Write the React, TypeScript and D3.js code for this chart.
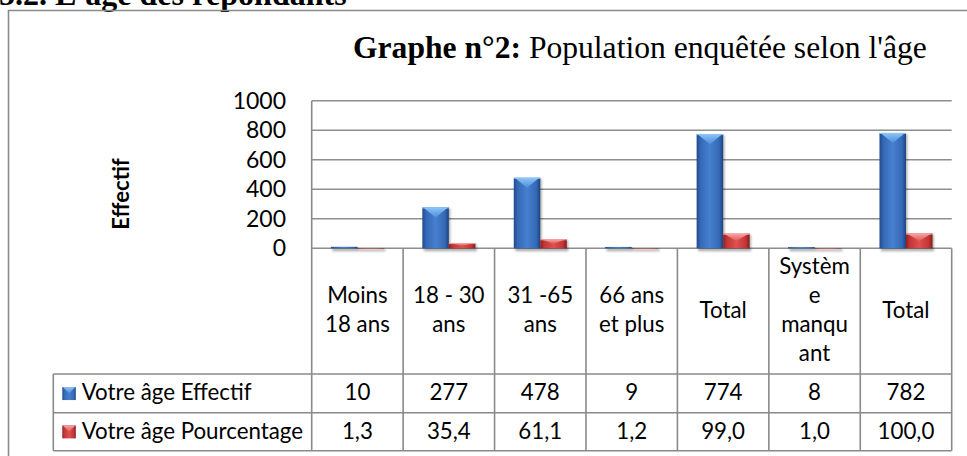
import React from "react";
import * as d3 from "d3";

const categories: string[][] = [
  ["Moins", "18 ans"],
  ["18 - 30", "ans"],
  ["31 -65", "ans"],
  ["66 ans", "et plus"],
  ["Total"],
  ["Systèm", "e", "manqu", "ant"],
  ["Total"],
];
const effectif = [10, 277, 478, 9, 774, 8, 782];
const pourcentage = [1.3, 35.4, 61.1, 1.2, 99.0, 1.0, 100.0];
const yTicks = [0, 200, 400, 600, 800, 1000];
const seriesNames = ["Votre âge Effectif", "Votre âge Pourcentage"];
const heading = "5.2. L'âge des répondants";
const titleBold = "Graphe n°2:";
const titleRest = " Population enquêtée selon l'âge";
const yLabel = "Effectif";

const W = 967;
const H = 456;
const plotL = 311.7;
const plotR = 951.7;
const yTop = 100.8;
const yZero = 248.3;
const headerBottom = 374;
const row1Bottom = 412.7;
const row2Bottom = 450.7;
const legendL = 53.3;

const SANS = "Lato, 'Noto Sans', sans-serif";
const SERIF = "'Liberation Serif', 'DejaVu Serif', serif";
const GRID = "#8e8e8e";
const LINE = "#8a8a8a";
const TABLE_FS = 22.3;

const palettes = [
  {
    id: "blue",
    side: ["#1f4b8c", "#3569b6", "#4680cf", "#3569b6", "#1c4380"],
    top: ["#8cc4f7", "#4f8fda"],
  },
  {
    id: "red",
    side: ["#8f1f1f", "#c23636", "#df5050", "#c23636", "#861b1b"],
    top: ["#f7a0a0", "#e25a5a"],
  },
];

function fmt(v: number) {
  return v.toFixed(1).replace(".", ",");
}

function Bar({ x, y, w, h, pal }: { x: number; y: number; w: number; h: number; pal: number }) {
  const p = palettes[pal];
  const tri = Math.min(10, h * 0.5);
  return (
    <g>
      <rect x={x + 1.5} y={y + 1} width={w} height={h + 2} fill="#000" opacity={0.3} filter="url(#shadow)" />
      <rect x={x} y={y} width={w} height={Math.max(h, 0.5)} fill={`url(#side-${p.id})`} />
      {h > 1.5 && (
        <polygon
          points={`${x + 1},${y} ${x + w - 1},${y} ${x + w / 2},${y + tri}`}
          fill={`url(#top-${p.id})`}
        />
      )}
      {h > 1.5 && <line x1={x} x2={x + w} y1={y + 0.5} y2={y + 0.5} stroke={p.top[0]} strokeWidth={1} />}
    </g>
  );
}

export default function App() {
  const x = d3
    .scaleBand<number>()
    .domain(d3.range(categories.length))
    .range([plotL, plotR])
    .padding(0);
  const bw = x.bandwidth();
  const inner = d3.scaleBand<number>().domain([0, 1]).range([0, bw]).paddingInner(0).paddingOuter(0.725);
  const y = d3.scaleLinear().domain([0, 1000]).range([yZero, yTop]);
  const series = [effectif, pourcentage];
  const rowLabels = [effectif.map((v) => String(v)), pourcentage.map(fmt)];
  const rowTops = [headerBottom, row1Bottom];
  const rowBots = [row1Bottom, row2Bottom];
  const lineH = 28.8;
  const headerMid = (yZero + headerBottom) / 2;

  return (
    <svg
      width={W}
      height={H}
      viewBox={`0 0 ${W} ${H}`}
      style={{ position: "absolute", left: 0, top: 0, background: "#fff" }}
    >
      <defs>
        <filter id="shadow" x="-50%" y="-50%" width="200%" height="200%">
          <feGaussianBlur stdDeviation={1.3} />
        </filter>
        {palettes.map((p) => (
          <React.Fragment key={p.id}>
            <linearGradient id={`side-${p.id}`} x1="0" x2="1" y1="0" y2="0">
              <stop offset="0" stopColor={p.side[0]} />
              <stop offset="0.15" stopColor={p.side[1]} />
              <stop offset="0.5" stopColor={p.side[2]} />
              <stop offset="0.85" stopColor={p.side[3]} />
              <stop offset="1" stopColor={p.side[4]} />
            </linearGradient>
            <linearGradient id={`top-${p.id}`} x1="0" x2="0" y1="0" y2="1">
              <stop offset="0" stopColor={p.top[0]} />
              <stop offset="1" stopColor={p.top[1]} />
            </linearGradient>
          </React.Fragment>
        ))}
      </defs>
      <rect x={0} y={0} width={W} height={H} fill="#fff" />

      {/* heading, cut at the top as in the source page */}
      <text x={-1} y={5} fontFamily={SERIF} fontWeight="bold" fontSize={32} fill="#000">
        {heading}
      </text>

      {/* outer frame */}
      <path d={`M8.5,${H + 2} V10.5 H${W + 2}`} fill="none" stroke={LINE} strokeWidth={1.6} />

      {/* title */}
      <text x={353} y={58} fontFamily={SERIF} fontSize={31.6} fill="#000">
        <tspan fontWeight="bold">{titleBold}</tspan>
        <tspan>{titleRest}</tspan>
      </text>

      {/* y label */}
      <text
        transform={`translate(129,194) rotate(-90)`}
        textAnchor="middle"
        fontFamily={SANS}
        fontWeight="bold"
        fontSize={22}
        fill="#000"
      >
        {yLabel}
      </text>

      {/* gridlines */}
      {yTicks.map((t) => (
        <line key={t} x1={plotL} x2={plotR} y1={y(t)} y2={y(t)} stroke={GRID} strokeWidth={1.6} />
      ))}
      {yTicks.map((t) => (
        <text
          key={"l" + t}
          x={286}
          y={y(t) + 7.8}
          textAnchor="end"
          fontFamily={SANS}
          fontSize={23}
          fill="#000"
        >
          {t}
        </text>
      ))}

      {/* bars */}
      {series.map((vals, s) =>
        vals.map((v, i) => {
          const bx = (x(i) as number) + (inner(s) as number);
          const top = y(v);
          return <Bar key={s + "-" + i} x={bx} y={top} w={inner.bandwidth()} h={yZero - top} pal={s} />;
        })
      )}

      {/* table lines */}
      <line x1={plotL} x2={plotL} y1={yTop} y2={row2Bottom} stroke={LINE} strokeWidth={1.6} />
      {d3.range(1, categories.length + 1).map((i) => {
        const xx = plotL + bw * i;
        return <line key={"v" + i} x1={xx} x2={xx} y1={yZero} y2={row2Bottom} stroke={LINE} strokeWidth={1.6} />;
      })}
      <line x1={legendL} x2={legendL} y1={headerBottom} y2={row2Bottom} stroke={LINE} strokeWidth={1.6} />
      {[headerBottom, row1Bottom, row2Bottom].map((yy) => (
        <line key={"h" + yy} x1={legendL} x2={plotR} y1={yy} y2={yy} stroke={LINE} strokeWidth={1.6} />
      ))}

      {/* category labels */}
      {categories.map((lines, i) => {
        const cx = (x(i) as number) + bw / 2;
        const n = lines.length;
        return (
          <text key={"c" + i} textAnchor="middle" fontFamily={SANS} fontSize={TABLE_FS} fill="#000">
            {lines.map((ln, k) => (
              <tspan key={k} x={cx} y={headerMid + 6.5 + (k - (n - 1) / 2) * lineH}>
                {ln}
              </tspan>
            ))}
          </text>
        );
      })}

      {/* rows */}
      {seriesNames.map((name, s) => {
        const mid = (rowTops[s] + rowBots[s]) / 2;
        const p = palettes[s];
        return (
          <g key={"r" + s}>
            <rect x={62.3} y={mid - 6.3} width={13.5} height={13} fill={`url(#side-${p.id})`} />
            <polygon
              points={`${62.8},${mid - 6.3} ${75.3},${mid - 6.3} ${69.05},${mid}`}
              fill={`url(#top-${p.id})`}
            />
            <text x={81.7} y={mid + 6.9} fontFamily={SANS} fontSize={TABLE_FS} fill="#000">
              {name}
            </text>
            {rowLabels[s].map((lab, i) => (
              <text
                key={i}
                x={(x(i) as number) + bw / 2}
                y={mid + 6.9}
                textAnchor="middle"
                fontFamily={SANS}
                fontSize={TABLE_FS}
                fill="#000"
              >
                {lab}
              </text>
            ))}
          </g>
        );
      })}
    </svg>
  );
}
